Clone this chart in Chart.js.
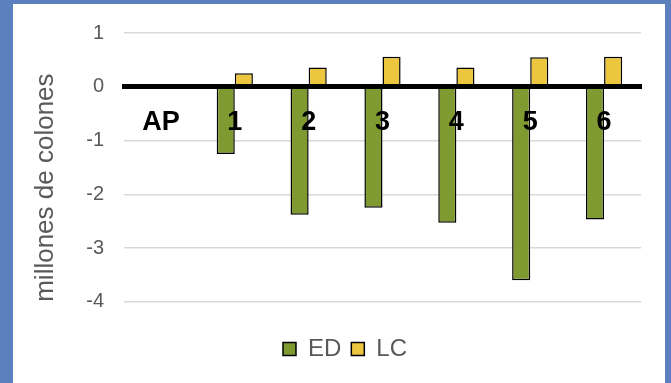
<!DOCTYPE html>
<html>
<head>
<meta charset="utf-8">
<script src="https://cdn.jsdelivr.net/npm/chart.js@4"></script>
<style>
  html, body { margin: 0; padding: 0; }
  body { background: #5b80bd; width: 671px; height: 383px; position: relative; overflow: hidden; }
  #wrap { position: absolute; left: 13px; top: 4px; width: 652px; height: 379px; background: #fff; }
</style>
</head>
<body>
<div id="wrap"><canvas id="chart" width="652" height="379"></canvas></div>
<script>
const categories = ['AP', '1', '2', '3', '4', '5', '6'];
const edValues = [null, -1.25, -2.38, -2.25, -2.53, -3.60, -2.47];
const lcValues = [null, 0.25, 0.36, 0.56, 0.36, 0.55, 0.56];
const yTicks = [1, 0, -1, -2, -3, -4];

const gray = '#595959';

const ctx = document.getElementById('chart').getContext('2d');
new Chart(ctx, {
    type: 'bar',
    data: {
        labels: categories,
        datasets: [
            {
                label: 'ED',
                data: edValues,
                backgroundColor: '#7f9a30',
                borderColor: '#000',
                borderWidth: 1.5,
                borderSkipped: false
            },
            {
                label: 'LC',
                data: lcValues,
                backgroundColor: '#ecc63f',
                borderColor: '#000',
                borderWidth: 1.5,
                borderSkipped: false
            }
        ]
    },
    options: {
        responsive: false,
        animation: false,
        devicePixelRatio: 1,
        datasets: {
            bar: { categoryPercentage: 0.49, barPercentage: 1.0 }
        },
        layout: {
            padding: { left: 36, right: 24, top: 29, bottom: 12 }
        },
        plugins: {
            legend: {
                position: 'bottom',
                // empty title only used as spacing above the legend row
                title: {
                    display: true,
                    text: '',
                    font: { size: 1 },
                    padding: { top: 0, bottom: 24 }
                },
                labels: {
                    boxWidth: 13,
                    boxHeight: 13,
                    color: gray,
                    padding: 10,
                    font: { family: 'Liberation Sans', size: 24 }
                }
            },
            tooltip: { enabled: false }
        },
        scales: {
            x: {
                position: { y: 0 },
                afterFit: s => { s.paddingLeft = 0; s.paddingRight = 0; s.paddingTop = 0; s.paddingBottom = 0; },
                grid: { drawOnChartArea: false, drawTicks: false },
                border: { display: true, color: '#000', width: 5, z: 1 },
                ticks: {
                    z: 1,
                    color: '#000',
                    padding: 20,
                    autoSkip: false,
                    maxRotation: 0,
                    minRotation: 0,
                    font: { family: 'Liberation Sans', size: 27, weight: 'bold' }
                }
            },
            y: {
                min: -4,
                max: 1,
                afterFit: s => { s.width = 75; s.paddingTop = 0; s.paddingBottom = 0; },
                afterBuildTicks: s => { s.ticks = yTicks.map(v => ({ value: v })); },
                grid: {
                    color: c => (c.tick && c.tick.value === 0) ? 'rgba(0,0,0,0)' : '#d9d9d9',
                    lineWidth: 1.5,
                    drawTicks: false
                },
                border: { display: false },
                ticks: {
                    color: gray,
                    padding: 20,
                    font: { family: 'Liberation Sans', size: 20 }
                },
                title: {
                    display: true,
                    text: 'millones de colones',
                    align: 'start',
                    color: gray,
                    padding: { top: -19, bottom: 0 },
                    font: { family: 'Liberation Sans', size: 26 }
                }
            }
        }
    }
});
</script>
</body>
</html>
